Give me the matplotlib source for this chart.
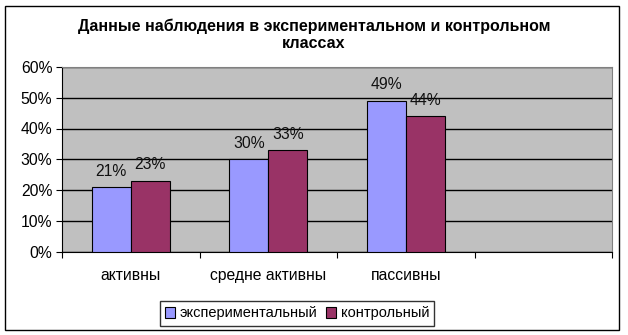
import matplotlib
matplotlib.use("Agg")
import matplotlib.pyplot as plt
from matplotlib.patches import Rectangle
import numpy as np

plt.rcParams['font.family'] = ['Liberation Sans', 'DejaVu Sans']

categories = ["активны", "средне активны", "пассивны", ""]
experimental = [0.21, 0.30, 0.49]
control = [0.23, 0.33, 0.44]
exp_labels = ["21%", "30%", "49%"]
ctl_labels = ["23%", "33%", "44%"]
y_ticks = [0, 0.1, 0.2, 0.3, 0.4, 0.5, 0.6]
y_tick_labels = ["0%", "10%", "20%", "30%", "40%", "50%", "60%"]

fig = plt.figure(figsize=(6.28, 3.35), dpi=100)
fig.patch.set_facecolor("white")
# outer chart frame
fig.patches.append(Rectangle((5 / 628, 5 / 335), 614 / 628, 324 / 335,
                             transform=fig.transFigure, fill=False,
                             edgecolor="black", linewidth=1))

ax = fig.add_axes([62 / 628, (335 - 251.5) / 335, 550 / 628, 184.5 / 335])
ax.set_facecolor("#C0C0C0")

x = np.arange(len(experimental))
w = 0.284
b1 = ax.bar(x - w / 2, experimental, w, color="#9999FF", edgecolor="black",
            linewidth=0.8, label="экспериментальный", zorder=3)
b2 = ax.bar(x + w / 2, control, w, color="#993366", edgecolor="black",
            linewidth=0.8, label="контрольный", zorder=3)

for bars, labels in ((b1, exp_labels), (b2, ctl_labels)):
    for rect, txt in zip(bars, labels):
        ax.annotate(txt, (rect.get_x() + rect.get_width() / 2, rect.get_height()),
                    xytext=(0, 6), textcoords="offset points",
                    ha="center", va="bottom", fontsize=11.3, color="#111111")

ax.set_xlim(-0.5, 3.5)
ax.set_ylim(0, 0.6)
ax.set_yticks(y_ticks)
ax.set_yticklabels(y_tick_labels, fontsize=11.3)
ax.yaxis.grid(True, color="black", linewidth=1, zorder=1)
ax.set_axisbelow(True)

# category labels centred, tick marks at category boundaries
ax.set_xticks(np.arange(-0.5, 4.0, 1.0))
ax.set_xticklabels([])
ax.set_xticks(np.arange(4), labels=categories, minor=True)
ax.tick_params(axis="x", which="minor", length=0, pad=12, labelsize=11.3)
ax.tick_params(axis="x", which="major", length=4.5, direction="out", color="black")
ax.tick_params(axis="y", length=4, direction="out", pad=3)

ax.spines["top"].set_color("#808080")
ax.spines["right"].set_color("#808080")
ax.spines["left"].set_color("black")
ax.spines["bottom"].set_color("black")

fig.text(0.5, 1 - 31 / 335, "Данные наблюдения в экспериментальном и контрольном",
         ha="center", va="baseline", fontsize=11.5, fontweight="bold")
fig.text(0.5, 1 - 48 / 335, "классах",
         ha="center", va="baseline", fontsize=11.5, fontweight="bold")

leg = fig.legend(handles=[b1, b2], loc="center", bbox_to_anchor=(297 / 628, 1 - 313.5 / 335),
                 ncol=2, frameon=True, fancybox=False, fontsize=10.5, handlelength=0.7,
                 handleheight=0.7, handletextpad=0.3, columnspacing=0.6,
                 borderpad=0.35, borderaxespad=0)
leg.get_frame().set_edgecolor("black")
leg.get_frame().set_linewidth(1)

fig.savefig("out.png", dpi=100)
